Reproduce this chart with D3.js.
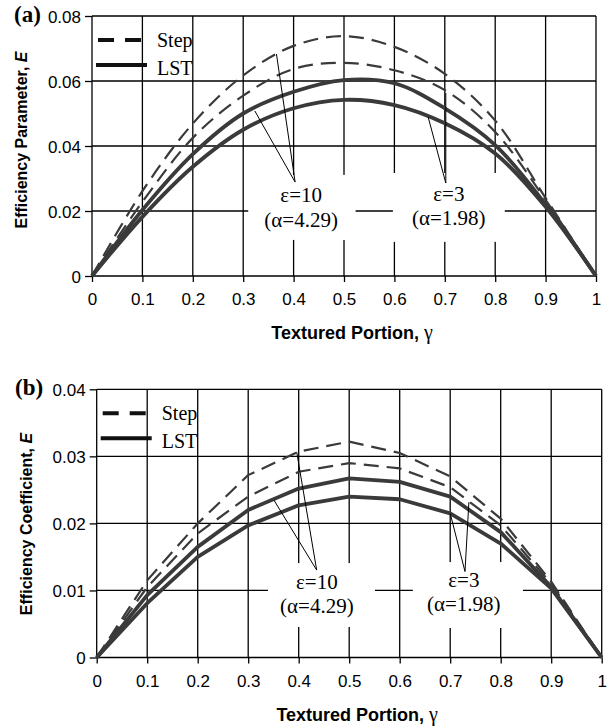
<!DOCTYPE html>
<html>
<head>
<meta charset="utf-8">
<script src="https://cdn.jsdelivr.net/npm/d3@7"></script>
<style>
  body { margin: 0; background: #fff; }
  svg { display: block; }
</style>
</head>
<body>
<svg id="fig" width="608" height="726"></svg>
<script>
// textured portion (x values shared by every curve)
const gamma = [0, 0.1, 0.2, 0.3, 0.4, 0.5, 0.6, 0.7, 0.8, 0.9, 1]
const xTicks = [0, 0.1, 0.2, 0.3, 0.4, 0.5, 0.6, 0.7, 0.8, 0.9, 1]

// panel (a): efficiency parameter
const yTicksA = [0, 0.02, 0.04, 0.06, 0.08]
const stepEps10A = [0, 0.0261, 0.0469, 0.0617, 0.0708, 0.0738, 0.0705, 0.0622, 0.0478, 0.0240, 0]
const stepEps3A = [0, 0.0228, 0.0425, 0.0555, 0.0637, 0.0656, 0.0633, 0.0572, 0.0443, 0.0234, 0]
const lstEps10A = [0, 0.0203, 0.0375, 0.0500, 0.0567, 0.0603, 0.0593, 0.0516, 0.0403, 0.0220, 0]
const lstEps3A = [0, 0.0182, 0.0336, 0.0450, 0.0516, 0.0542, 0.0526, 0.0470, 0.0377, 0.0213, 0]

// panel (b): efficiency coefficient
const yTicksB = [0, 0.01, 0.02, 0.03, 0.04]
const stepEps10B = [0, 0.0115, 0.0200, 0.0272, 0.0307, 0.0322, 0.0305, 0.0270, 0.0207, 0.0113, 0]
const stepEps3B = [0, 0.0105, 0.0185, 0.0240, 0.0277, 0.0290, 0.0282, 0.0254, 0.0197, 0.0110, 0]
const lstEps10B = [0, 0.0093, 0.0165, 0.0220, 0.0252, 0.0267, 0.0262, 0.0240, 0.0187, 0.0105, 0]
const lstEps3B = [0, 0.0081, 0.0150, 0.0197, 0.0227, 0.0240, 0.0236, 0.0215, 0.0170, 0.0103, 0]

const legendLabels = ['Step', 'LST']
const epsLabels = [['ε=10', '(α=4.29)'], ['ε=3', '(α=1.98)']]

const SERIF = '"Liberation Serif", "Times New Roman", Times, serif'
const SANS = '"Liberation Sans", Arial, Helvetica, sans-serif'
const CURVE_COLOR = '#3a3a3a'

const svg = d3.select('#fig')

function fmtY (d) { return d === 0 ? '0' : d3.format('.2f')(d) }
function fmtX (d) { return d === 0 ? '0' : d === 1 ? '1' : d3.format('.1f')(d) }

function drawPanel (p) {
  const x = d3.scaleLinear().domain([0, 1]).range([p.left, p.right])
  const y = d3.scaleLinear().domain([0, p.yMax]).range([p.bottom, p.top])
  const g = svg.append('g')

  // grid (also makes the frame)
  g.selectAll('.vgrid').data(xTicks).enter().append('line')
    .attr('x1', d => x(d)).attr('x2', d => x(d))
    .attr('y1', y(0)).attr('y2', y(p.yMax))
    .style('stroke', '#000').style('stroke-width', 1.3)
  g.selectAll('.hgrid').data(p.yTicks).enter().append('line')
    .attr('x1', x(0)).attr('x2', x(1))
    .attr('y1', d => y(d)).attr('y2', d => y(d))
    .style('stroke', '#000').style('stroke-width', 1.3)

  // axes: ticks and labels only
  const xAxis = g.append('g')
    .attr('transform', `translate(0,${y(0)})`)
    .call(d3.axisBottom(x).tickValues(xTicks).tickSize(6).tickSizeOuter(0).tickFormat(fmtX))
  const yAxis = g.append('g')
    .attr('transform', `translate(${x(0)},0)`)
    .call(d3.axisLeft(y).tickValues(p.yTicks).tickSize(7).tickSizeOuter(0).tickFormat(fmtY))
  for (const ax of [xAxis, yAxis]) {
    ax.select('.domain').remove()
    ax.selectAll('line').style('stroke', '#000').style('stroke-width', 1.3)
    ax.selectAll('text').style('font-family', SANS).style('font-size', '17px').style('fill', '#000')
  }
  xAxis.selectAll('text').attr('y', 29).attr('dy', 0)
  yAxis.selectAll('text').attr('x', -11).attr('dy', '0.36em')

  // white boxes behind the annotation text
  g.selectAll('.box').data(p.notes).enter().append('rect')
    .attr('x', d => x(d.box[0])).attr('width', d => x(d.box[1]) - x(d.box[0]))
    .attr('y', d => y(d.box[2])).attr('height', d => y(d.box[3]) - y(d.box[2]))
    .style('fill', '#fff')

  // curves
  const line = d3.line()
    .x((d, i) => x(gamma[i]))
    .y(d => y(d))
    .curve(p.curve)
  g.selectAll('.series').data(p.series).enter().append('path')
    .attr('d', d => line(d.values))
    .style('fill', 'none')
    .style('stroke', CURVE_COLOR)
    .style('stroke-width', d => d.dashed ? 2.2 : 3.8)
    .style('stroke-dasharray', d => d.dashed ? '15,8' : null)
    .style('stroke-linejoin', 'round')

  // leader lines and labels
  p.notes.forEach((n, k) => {
    n.ends.forEach(e => {
      g.append('line')
        .attr('x1', x(n.apex[0])).attr('y1', y(n.apex[1]))
        .attr('x2', x(e[0])).attr('y2', y(e[1]))
        .style('stroke', '#000').style('stroke-width', 1)
    })
    epsLabels[k].forEach((t, j) => {
      g.append('text')
        .attr('x', x(n.at[0])).attr('y', y(n.at[1 + j]))
        .attr('text-anchor', 'middle')
        .style('font-family', SERIF).style('font-size', '21px')
        .text(t)
    })
  })

  // legend
  const lg = g.append('g').attr('transform', `translate(${p.left},${p.top})`)
  lg.append('line').attr('x1', 6).attr('x2', 51).attr('y1', 24).attr('y2', 24)
    .style('stroke', '#111').style('stroke-width', 4).style('stroke-dasharray', '16,11')
  lg.append('line').attr('x1', 4).attr('x2', 55).attr('y1', 49).attr('y2', 49)
    .style('stroke', '#111').style('stroke-width', 4)
  lg.selectAll('.lt').data(legendLabels).enter().append('text')
    .attr('x', 65).attr('y', (d, i) => 31 + i * 28)
    .style('font-family', SERIF).style('font-size', '20px')
    .text(d => d)

  // panel tag
  svg.append('text')
    .attr('x', p.tag[0]).attr('y', p.tag[1])
    .style('font-family', SERIF).style('font-size', '23px').style('font-weight', 'bold')
    .text(p.tagText)

  // y title
  const yt = svg.append('text')
    .attr('transform', `translate(${p.yTitleX},${p.yTitleY}) rotate(-90)`)
    .attr('text-anchor', 'middle')
    .style('font-family', SANS).style('font-size', '16px').style('font-weight', 'bold')
  yt.append('tspan').text(p.yTitle + ', ')
  yt.append('tspan').style('font-style', 'italic').text('E')

  // x title
  const xt = svg.append('text')
    .attr('x', (p.left + p.right) / 2 + 8).attr('y', y(0) + 63)
    .attr('text-anchor', 'middle')
    .style('font-family', SANS).style('font-size', '18px').style('font-weight', 'bold')
  xt.append('tspan').text('Textured Portion, ')
  xt.append('tspan').style('font-family', SERIF).style('font-weight', 'normal').style('font-size', '20px').text('γ')
}

drawPanel({
  left: 92, right: 596, top: 16, bottom: 276,
  yMax: 0.08, yTicks: yTicksA,
  curve: d3.curveCatmullRom.alpha(0.5),
  series: [
    { values: stepEps10A, dashed: true },
    { values: stepEps3A, dashed: true },
    { values: lstEps10A, dashed: false },
    { values: lstEps3A, dashed: false }
  ],
  notes: [
    { box: [0.31, 0.523, 0.0311, 0.0111], apex: [0.403, 0.0289], ends: [[0.366, 0.0683], [0.323, 0.0508]], at: [0.415, 0.0228, 0.0151] },
    { box: [0.597, 0.819, 0.0317, 0.0105], apex: [0.702, 0.0286], ends: [[0.702, 0.0563], [0.667, 0.0489]], at: [0.708, 0.0231, 0.0157] }
  ],
  tag: [14, 22], tagText: '(a)',
  yTitle: 'Efficiency Parameter', yTitleX: 27, yTitleY: 140
})

drawPanel({
  left: 96.7, right: 601.7, top: 389.3, bottom: 657.5,
  yMax: 0.04, yTicks: yTicksB,
  curve: d3.curveLinear,
  series: [
    { values: stepEps10B, dashed: true },
    { values: stepEps3B, dashed: true },
    { values: lstEps10B, dashed: false },
    { values: lstEps3B, dashed: false }
  ],
  notes: [
    { box: [0.339, 0.551, 0.01408, 0.00455], apex: [0.4356, 0.01304], ends: [[0.396, 0.03067], [0.351, 0.02347]], at: [0.436, 0.0102, 0.0066] },
    { box: [0.626, 0.844, 0.01423, 0.0044], apex: [0.7293, 0.01282], ends: [[0.700, 0.02149], [0.737, 0.02317]], at: [0.727, 0.0105, 0.0069] }
  ],
  tag: [15, 395], tagText: '(b)',
  yTitle: 'Efficiency Coefficient', yTitleX: 32, yTitleY: 524
})
</script>
</body>
</html>
